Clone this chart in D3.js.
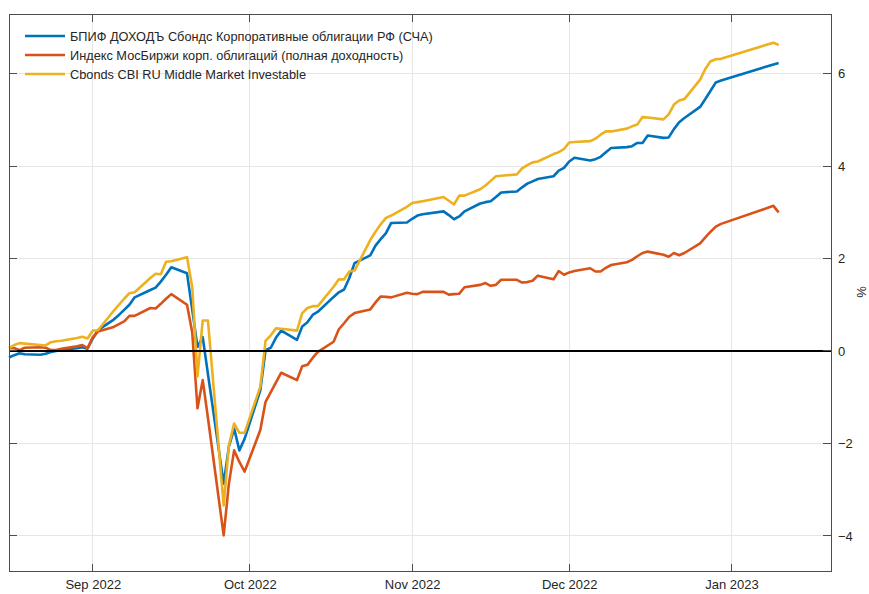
<!DOCTYPE html>
<html><head><meta charset="utf-8">
<script src="https://cdn.jsdelivr.net/npm/d3@7"></script>
<style>
body{margin:0;background:#fff}
svg{display:block}
text{font-family:"Liberation Sans",Arial,sans-serif;fill:#262626}
</style>
</head><body><svg id="chart" width="869" height="594"></svg>
<script>
const dates = [
"2022-08-16","2022-08-17","2022-08-18","2022-08-19","2022-08-22","2022-08-23","2022-08-24","2022-08-25","2022-08-26","2022-08-29","2022-08-30","2022-08-31",
"2022-09-01","2022-09-02","2022-09-05","2022-09-06","2022-09-07","2022-09-08","2022-09-09","2022-09-12","2022-09-13","2022-09-14","2022-09-15","2022-09-16","2022-09-19","2022-09-20","2022-09-21","2022-09-22","2022-09-23","2022-09-26","2022-09-27","2022-09-28","2022-09-29","2022-09-30",
"2022-10-03","2022-10-04","2022-10-05","2022-10-06","2022-10-07","2022-10-10","2022-10-11","2022-10-12","2022-10-13","2022-10-14","2022-10-17","2022-10-18","2022-10-19","2022-10-20","2022-10-21","2022-10-24","2022-10-25","2022-10-26","2022-10-27","2022-10-28","2022-10-31",
"2022-11-01","2022-11-02","2022-11-03","2022-11-07","2022-11-08","2022-11-09","2022-11-10","2022-11-11","2022-11-14","2022-11-15","2022-11-16","2022-11-17","2022-11-18","2022-11-21","2022-11-22","2022-11-23","2022-11-24","2022-11-25","2022-11-28","2022-11-29","2022-11-30",
"2022-12-01","2022-12-02","2022-12-05","2022-12-06","2022-12-07","2022-12-08","2022-12-09","2022-12-12","2022-12-13","2022-12-14","2022-12-15","2022-12-16","2022-12-19","2022-12-20","2022-12-21","2022-12-22","2022-12-23","2022-12-26","2022-12-27","2022-12-28","2022-12-29","2022-12-30",
"2023-01-09","2023-01-10"
];
const fundNav = [
-0.14,-0.09,-0.05,-0.07,-0.08,-0.06,-0.02,0.00,0.02,0.06,0.08,0.05,
0.27,0.45,0.68,0.78,0.89,1.00,1.16,1.32,1.37,1.50,1.65,1.81,1.68,0.89,0.09,0.30,-0.50,-2.87,-2.07,-1.68,-2.15,-1.90,
-0.85,0.02,0.07,0.29,0.44,0.24,0.53,0.62,0.78,0.85,1.17,1.27,1.33,1.58,1.90,2.07,2.28,2.42,2.55,2.77,2.78,
2.86,2.93,2.96,3.02,2.94,2.85,2.91,3.02,3.19,3.22,3.24,3.33,3.43,3.45,3.54,3.62,3.67,3.72,3.78,3.90,3.96,
4.10,4.18,4.12,4.15,4.20,4.30,4.39,4.41,4.43,4.50,4.50,4.66,4.61,4.62,4.80,4.95,5.04,5.28,5.45,5.63,5.81,5.85,
6.20,6.23
];
const moexCorpIndex = [
0.06,0.06,0.02,0.07,0.08,0.07,0.02,0.02,0.05,0.10,0.13,0.06,
0.30,0.42,0.52,0.58,0.64,0.76,0.76,0.93,0.92,1.02,1.13,1.23,1.00,0.40,-1.24,-0.63,-1.45,-3.99,-2.87,-2.15,-2.40,-2.61,
-1.71,-1.10,-0.89,-0.68,-0.47,-0.63,-0.33,-0.30,-0.15,-0.02,0.20,0.47,0.60,0.74,0.82,0.90,1.05,1.18,1.17,1.16,1.26,
1.24,1.23,1.28,1.28,1.22,1.23,1.24,1.38,1.43,1.47,1.41,1.43,1.54,1.54,1.48,1.49,1.52,1.63,1.55,1.73,1.65,
1.70,1.73,1.79,1.72,1.72,1.80,1.86,1.92,1.97,2.05,2.12,2.15,2.08,2.04,2.12,2.07,2.12,2.33,2.46,2.58,2.69,2.75,
3.14,3.00
];
const cbondsIndex = [
0.06,0.13,0.17,0.16,0.13,0.12,0.19,0.21,0.22,0.28,0.31,0.27,
0.44,0.45,0.87,1.00,1.13,1.25,1.27,1.58,1.67,1.66,1.93,1.94,2.03,1.38,-0.55,0.66,0.66,-3.34,-2.04,-1.57,-1.77,-1.77,
-0.77,0.22,0.34,0.49,0.48,0.44,0.82,0.93,0.97,0.97,1.39,1.55,1.55,1.72,1.74,2.40,2.58,2.74,2.88,2.93,3.12,
3.20,3.22,3.24,3.33,3.25,3.17,3.36,3.36,3.50,3.58,3.68,3.78,3.79,3.82,3.95,4.02,4.08,4.10,4.26,4.30,4.37,
4.51,4.52,4.54,4.59,4.68,4.75,4.75,4.81,4.86,4.90,5.06,5.05,5.01,5.12,5.33,5.42,5.45,5.87,6.10,6.27,6.31,6.32,
6.67,6.62
];
const seriesNames = [
"БПИФ ДОХОДЪ Сбондс Корпоративные облигации РФ (СЧА)",
"Индекс МосБиржи корп. облигаций (полная доходность)",
"Cbonds CBI RU Middle Market Investable"
];
const seriesColors = ["#0072BD","#D95319","#EDB120"];
const xDomain = ["2022-08-16","2023-01-20"];
const yDomain = [-4.77, 7.29];
const yTicks = [-4,-2,0,2,4,6];
const xTickDates = ["2022-09-01","2022-10-01","2022-11-01","2022-12-01","2023-01-01"];
const xTickLabels = ["Sep 2022","Oct 2022","Nov 2022","Dec 2022","Jan 2023"];
const yAxisLabel = "%";

const parse = d3.utcParse("%Y-%m-%d");
const svg = d3.select("#chart");
const L = 9, R = 831, T = 14, B = 571.5;

const x = d3.scaleUtc().domain(xDomain.map(parse)).range([L, R]);
const y = d3.scaleLinear().domain(yDomain).range([B, T]);
const tickLen = 8;

// grid
const grid = svg.append("g").attr("shape-rendering", "crispEdges");
grid.selectAll("line.gy").data(yTicks).join("line")
  .attr("x1", L).attr("x2", R).attr("y1", d => y(d)).attr("y2", d => y(d))
  .attr("stroke", "#e6e6e6").attr("stroke-width", 1);
grid.selectAll("line.gx").data(xTickDates).join("line")
  .attr("x1", d => x(parse(d))).attr("x2", d => x(parse(d))).attr("y1", T).attr("y2", B)
  .attr("stroke", "#e6e6e6").attr("stroke-width", 1);

// series
const allSeries = [fundNav, moexCorpIndex, cbondsIndex];
const line = d3.line().x((d, i) => x(parse(dates[i]))).y(d => y(d));
svg.append("g").selectAll("path").data(allSeries).join("path")
  .attr("d", d => line(d))
  .attr("fill", "none")
  .attr("stroke", (d, i) => seriesColors[i])
  .attr("stroke-width", 2.6)
  .attr("stroke-linejoin", "round");

// zero line
svg.append("line").attr("x1", L).attr("x2", R).attr("y1", y(0)).attr("y2", y(0))
  .attr("stroke", "#000").attr("stroke-width", 1.5).attr("shape-rendering", "crispEdges");

// axes: right and bottom labels, inward ticks on all sides
const axR = d3.axisRight(y).tickValues(yTicks).tickSize(0).tickPadding(7).tickFormat(d3.format("d"));
const gR = svg.append("g").attr("transform", `translate(${R},0)`).call(axR);
gR.select(".domain").remove();
gR.selectAll("text").attr("font-size", 13).attr("fill", "#262626").style("font-family", '"Liberation Sans",Arial,sans-serif');

const axB = d3.axisBottom(x).tickValues(xTickDates.map(parse)).tickSize(0).tickPadding(8)
  .tickFormat((d, i) => xTickLabels[i]);
const gB = svg.append("g").attr("transform", `translate(0,${B})`).call(axB);
gB.select(".domain").remove();
gB.selectAll("text").attr("font-size", 13).attr("fill", "#262626").style("font-family", '"Liberation Sans",Arial,sans-serif');

const tickG = svg.append("g").attr("stroke", "#4d4d4d").attr("stroke-width", 1).attr("shape-rendering", "crispEdges");
yTicks.forEach(v => {
  tickG.append("line").attr("x1", R - tickLen).attr("x2", R).attr("y1", y(v)).attr("y2", y(v));
  tickG.append("line").attr("x1", L).attr("x2", L + tickLen).attr("y1", y(v)).attr("y2", y(v));
});
xTickDates.forEach(dstr => {
  const xv = x(parse(dstr));
  tickG.append("line").attr("x1", xv).attr("x2", xv).attr("y1", B - tickLen).attr("y2", B);
  tickG.append("line").attr("x1", xv).attr("x2", xv).attr("y1", T).attr("y2", T + tickLen);
});
svg.append("rect").attr("x", L).attr("y", T).attr("width", R - L).attr("height", B - T)
  .attr("fill", "none").attr("stroke", "#4d4d4d").attr("stroke-width", 1).attr("shape-rendering", "crispEdges");

// y label
svg.append("text").attr("transform", `translate(866,292) rotate(-90)`)
  .attr("text-anchor", "middle").attr("font-size", 13).text(yAxisLabel);

// legend
const leg = svg.append("g");
seriesNames.forEach((name, i) => {
  const yy = 36 + i * 19;
  leg.append("line").attr("x1", 25).attr("x2", 65).attr("y1", yy).attr("y2", yy)
    .attr("stroke", seriesColors[i]).attr("stroke-width", 2.6);
  leg.append("text").attr("x", 70).attr("y", yy + 4.5).attr("font-size", 12.75).text(name);
});
</script>
</body></html>
